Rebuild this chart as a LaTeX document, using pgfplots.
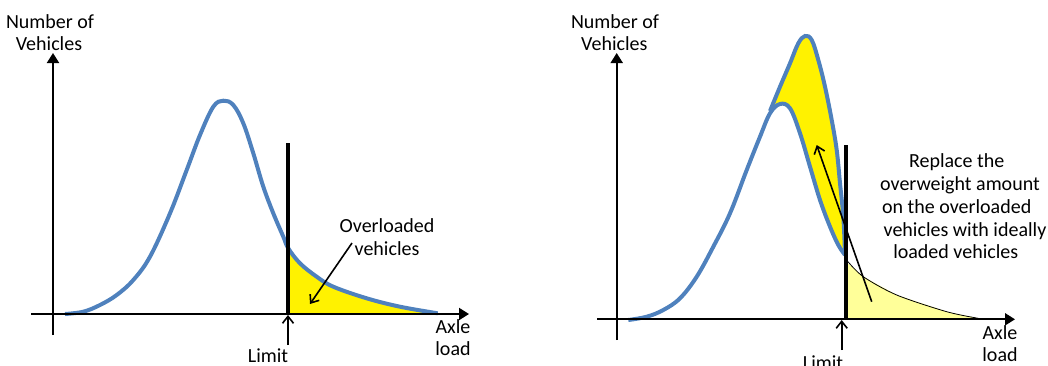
\documentclass[border=0pt]{standalone}
\usepackage{fontspec}
\setmainfont{Carlito}
\usepackage{pgfplots}
\pgfplotsset{compat=1.18}
\usetikzlibrary{arrows.meta}
\definecolor{curveblue}{HTML}{4F81BD}
\definecolor{lightyel}{HTML}{FFFF99}
\begin{document}
\begin{tikzpicture}
\begin{axis}[
  width=524pt, height=182.5pt, scale only axis,
  xmin=0, xmax=1048, ymin=0, ymax=365, y dir=reverse,
  hide axis, clip=true,
  every node/.style={font=\fontsize{9}{11}\selectfont, inner sep=0pt},
]
% invisible frame so that the picture spans the whole axis box
\addplot[draw=none, forget plot] coordinates {(0,0) (1048,365)};
% ---------- left panel ----------
\addplot[fill=yellow, draw=none] coordinates {
 (288.3,248.3) (300,263.3) (316.7,276.7) (333.3,286.7) (366.7,298.3)
 (400,306.7) (437.7,313.3) (288.3,313.3)} -- cycle;
\addplot[curveblue, line width=2pt, smooth, tension=0.6] coordinates {
 (65,314) (83.3,311.7) (100,305) (116.7,295) (133.3,280) (150,256.7)
 (170,213.3) (186.7,170) (200,135) (213.3,106.7) (223.3,100.7) (233.3,105)
 (243.3,123.3) (253.3,153.3) (263.3,186.7) (273.3,213.3) (283.3,236.7)
 (288.3,248.3) (300,263.3) (316.7,276.7) (333.3,286.7) (366.7,298.3)
 (400,306.7) (437.7,313.3)};
\addplot[black, line width=2.2pt] coordinates {(288,143) (288,314)};
\addplot[black, line width=1pt, -{Triangle[length=5pt,width=6pt]}] coordinates {(31,314) (469,314)};
\addplot[black, line width=1pt, -{Triangle[length=5pt,width=6pt]}] coordinates {(53,335) (53,53)};
\addplot[black, line width=0.8pt, -{Straight Barb[length=3.5pt,width=5.5pt]}] coordinates {(288,345) (288,315)};
\addplot[black, line width=0.8pt, -{Straight Barb[length=3.5pt,width=5.5pt]}] coordinates {(352,243) (310,304)};
\node[anchor=base] at (axis cs:50,28) {Number of};
\node[anchor=base] at (axis cs:49,50) {Vehicles};
\node[anchor=base] at (axis cs:387,232) {Overloaded};
\node[anchor=base] at (axis cs:387,255) {vehicles};
\node[anchor=base] at (axis cs:268,362) {Limit};
\node[anchor=base] at (axis cs:453,333) {Axle};
\node[anchor=base] at (axis cs:453,355) {load};
% ---------- right panel ----------
\addplot[fill=lightyel, draw=none] coordinates {
 (846,261.7) (863.3,276.7) (896.7,295) (946.7,311.7) (978.3,318.3) (846,318.3)} -- cycle;
\addplot[black, line width=0.4pt, smooth] coordinates {
 (848,261.7) (863.3,276.7) (896.7,295) (946.7,311.7) (978.3,318.3)};
\addplot[fill=yellow, draw=none] coordinates {
 (770,112) (780,86.7) (790,63.3) (798.3,43.3) (805,36) (811.7,40) (818.3,60)
 (825,86.7) (831.7,120) (836.7,150) (840,183.3) (843.3,216.7) (845,253.3)
 (838.3,245) (830,226.7) (820,200) (810,166.7) (800,133.3) (790,108.3)
 (780,104) (770,113.3)} -- cycle;
\addplot[curveblue, line width=2pt, smooth, tension=0.6] coordinates {
 (628.3,320) (646.7,316.7) (663.3,310) (680,298.3) (696.7,276.7) (713.3,246.7)
 (730,213.3) (746.7,170) (760,136.7) (770,113.3) (780,104) (790,108.3)
 (800,133.3) (810,166.7) (820,200) (830,226.7) (838.3,245) (845,255)};
\addplot[curveblue, line width=2pt, smooth, tension=0.6] coordinates {
 (770,111) (780,86.7) (790,63.3) (798.3,43.3) (805,36) (811.7,40) (818.3,60)
 (825,86.7) (831.7,120) (836.7,150) (840,183.3) (843.3,216.7) (845,253.3)};
\addplot[black, line width=2.2pt] coordinates {(846,145) (846,319)};
\addplot[black, line width=1pt, -{Triangle[length=5pt,width=6pt]}] coordinates {(597,319.3) (1015,319.3)};
\addplot[black, line width=1pt, -{Triangle[length=5pt,width=6pt]}] coordinates {(616.7,340) (616.7,53)};
\addplot[black, line width=0.8pt, -{Straight Barb[length=3.5pt,width=5.5pt]}] coordinates {(841.7,350) (841.7,320)};
\addplot[black, line width=0.8pt, -{Straight Barb[length=3.5pt,width=5.5pt]}] coordinates {(871.7,301.7) (816.7,145)};
\node[anchor=base] at (axis cs:615,28.3) {Number of};
\node[anchor=base] at (axis cs:614.3,50.7) {Vehicles};
\node[anchor=base] at (axis cs:956.7,167) {Replace the};
\node[anchor=base] at (axis cs:960,190) {overweight amount};
\node[anchor=base] at (axis cs:956.7,213) {on the overloaded};
\node[anchor=base] at (axis cs:965,236) {vehicles with ideally};
\node[anchor=base] at (axis cs:955.7,258) {loaded vehicles};
\node[anchor=base, overlay] at (axis cs:823,369) {Limit};
\node[anchor=base] at (axis cs:1000,339) {Axle};
\node[anchor=base] at (axis cs:1000,361.7) {load};
\end{axis}
\end{tikzpicture}
\end{document}
